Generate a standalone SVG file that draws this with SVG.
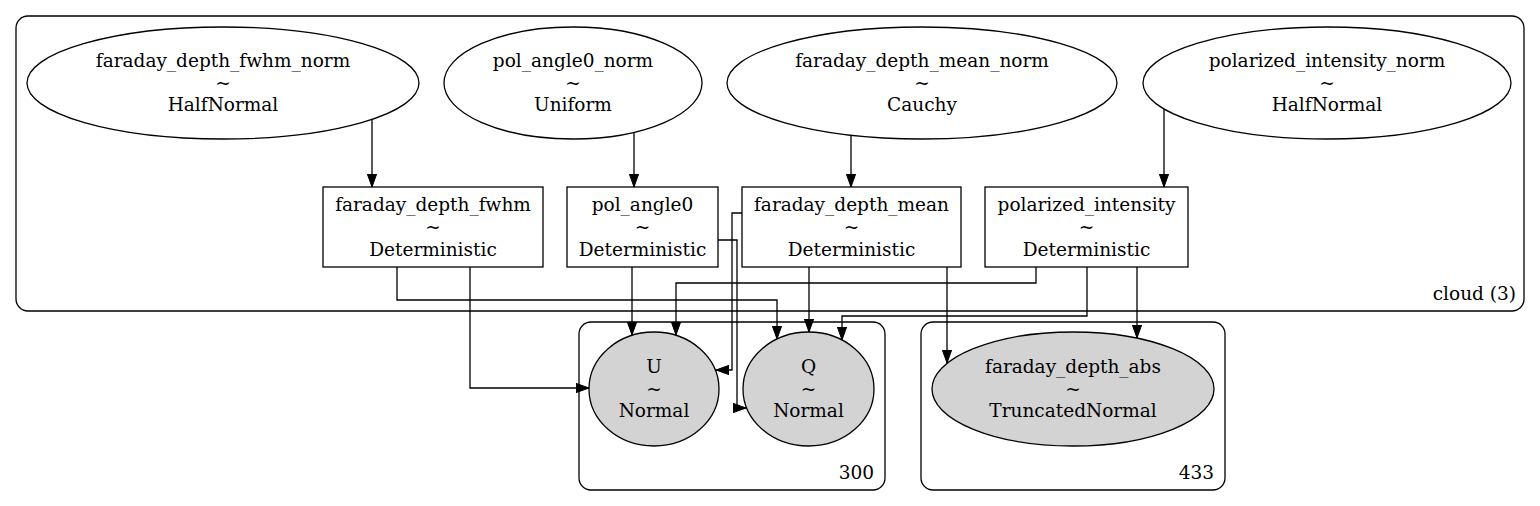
<svg xmlns="http://www.w3.org/2000/svg" width="1540" height="506" viewBox="0 0 1540 506">
<style>
.cl{fill:none;stroke:#000;stroke-width:1.3}
.nd{fill:none;stroke:#000;stroke-width:1.3}
.obs{fill:#d3d3d3;stroke:#000;stroke-width:1.3}
.e{fill:none;stroke:#000;stroke-width:1.3}
text{font-family:"DejaVu Serif","Liberation Serif",serif;font-size:18.5px;fill:#000}
.m{text-anchor:middle}
.r{text-anchor:end}
</style>
<defs>
<marker id="ah" markerUnits="userSpaceOnUse" markerWidth="14" markerHeight="10" refX="13" refY="4.65" orient="auto">
<path d="M0,0 L13,4.65 L0,9.3 z" fill="#000" stroke="#000" stroke-width="1"/>
</marker>
</defs>
<rect width="1540" height="506" fill="#fff"/>
<g id="cluster_cloud">
<rect class="cl" x="16" y="16" width="1508" height="295" rx="12"/>
<text class="r" x="1516" y="300">cloud (3)</text>
</g>
<g id="cluster_300">
<rect class="cl" x="579" y="322" width="306" height="168" rx="12"/>
<text class="r" x="874" y="479">300</text>
</g>
<g id="cluster_433">
<rect class="cl" x="921" y="322" width="304" height="168" rx="12"/>
<text class="r" x="1214" y="479">433</text>
</g>
<g id="faraday_depth_fwhm_norm">
<ellipse class="nd" cx="223" cy="83" rx="196" ry="56"/>
<text class="m" x="223" y="67">faraday_depth_fwhm_norm</text>
<text class="m" x="223" y="89">~</text>
<text class="m" x="223" y="111">HalfNormal</text>
</g>
<g id="pol_angle0_norm">
<ellipse class="nd" cx="573" cy="83" rx="129" ry="56"/>
<text class="m" x="573" y="67">pol_angle0_norm</text>
<text class="m" x="573" y="89">~</text>
<text class="m" x="573" y="111">Uniform</text>
</g>
<g id="faraday_depth_mean_norm">
<ellipse class="nd" cx="922" cy="83" rx="195" ry="56"/>
<text class="m" x="922" y="67">faraday_depth_mean_norm</text>
<text class="m" x="922" y="89">~</text>
<text class="m" x="922" y="111">Cauchy</text>
</g>
<g id="polarized_intensity_norm">
<ellipse class="nd" cx="1327" cy="83" rx="184" ry="56"/>
<text class="m" x="1327" y="67">polarized_intensity_norm</text>
<text class="m" x="1327" y="89">~</text>
<text class="m" x="1327" y="111">HalfNormal</text>
</g>
<g id="faraday_depth_fwhm">
<rect class="nd" x="323" y="187" width="220" height="80"/>
<text class="m" x="433" y="211">faraday_depth_fwhm</text>
<text class="m" x="433" y="233">~</text>
<text class="m" x="433" y="256">Deterministic</text>
</g>
<g id="pol_angle0">
<rect class="nd" x="567" y="187" width="151" height="80"/>
<text class="m" x="642.5" y="211">pol_angle0</text>
<text class="m" x="642.5" y="233">~</text>
<text class="m" x="642.5" y="256">Deterministic</text>
</g>
<g id="faraday_depth_mean">
<rect class="nd" x="742" y="187" width="219" height="80"/>
<text class="m" x="851.5" y="211">faraday_depth_mean</text>
<text class="m" x="851.5" y="233">~</text>
<text class="m" x="851.5" y="256">Deterministic</text>
</g>
<g id="polarized_intensity">
<rect class="nd" x="985" y="187" width="203" height="80"/>
<text class="m" x="1086.5" y="211">polarized_intensity</text>
<text class="m" x="1086.5" y="233">~</text>
<text class="m" x="1086.5" y="256">Deterministic</text>
</g>
<g id="U">
<ellipse class="obs" cx="654" cy="389" rx="65" ry="57"/>
<text class="m" x="654" y="373">U</text>
<text class="m" x="654" y="395">~</text>
<text class="m" x="654" y="417">Normal</text>
</g>
<g id="Q">
<ellipse class="obs" cx="808.5" cy="389" rx="65.5" ry="57"/>
<text class="m" x="808.5" y="373">Q</text>
<text class="m" x="808.5" y="395">~</text>
<text class="m" x="808.5" y="417">Normal</text>
</g>
<g id="faraday_depth_abs">
<ellipse class="obs" cx="1073" cy="389" rx="141" ry="57"/>
<text class="m" x="1073" y="373">faraday_depth_abs</text>
<text class="m" x="1073" y="395">~</text>
<text class="m" x="1073" y="417">TruncatedNormal</text>
</g>
<g id="connectors">
<path class="e" marker-end="url(#ah)" d="M372,119 V187"/>
<path class="e" marker-end="url(#ah)" d="M634,132 V187"/>
<path class="e" marker-end="url(#ah)" d="M851,135 V187"/>
<path class="e" marker-end="url(#ah)" d="M1164,109 V187"/>
<path class="e" marker-end="url(#ah)" d="M397,267 V300 H777 V339"/>
<path class="e" marker-end="url(#ah)" d="M470,267 V388 H589"/>
<path class="e" marker-end="url(#ah)" d="M632,267 V335"/>
<path class="e" marker-end="url(#ah)" d="M718,240 H737 V408 H746"/>
<path class="e" marker-end="url(#ah)" d="M742,213 H732 V370 H716"/>
<path class="e" marker-end="url(#ah)" d="M809,267 V332"/>
<path class="e" marker-end="url(#ah)" d="M947,267 V363"/>
<path class="e" marker-end="url(#ah)" d="M1036,267 V283 H676 V335"/>
<path class="e" marker-end="url(#ah)" d="M1087,267 V316 H842 V340"/>
<path class="e" marker-end="url(#ah)" d="M1137,267 V338"/>
</g>
</svg>
